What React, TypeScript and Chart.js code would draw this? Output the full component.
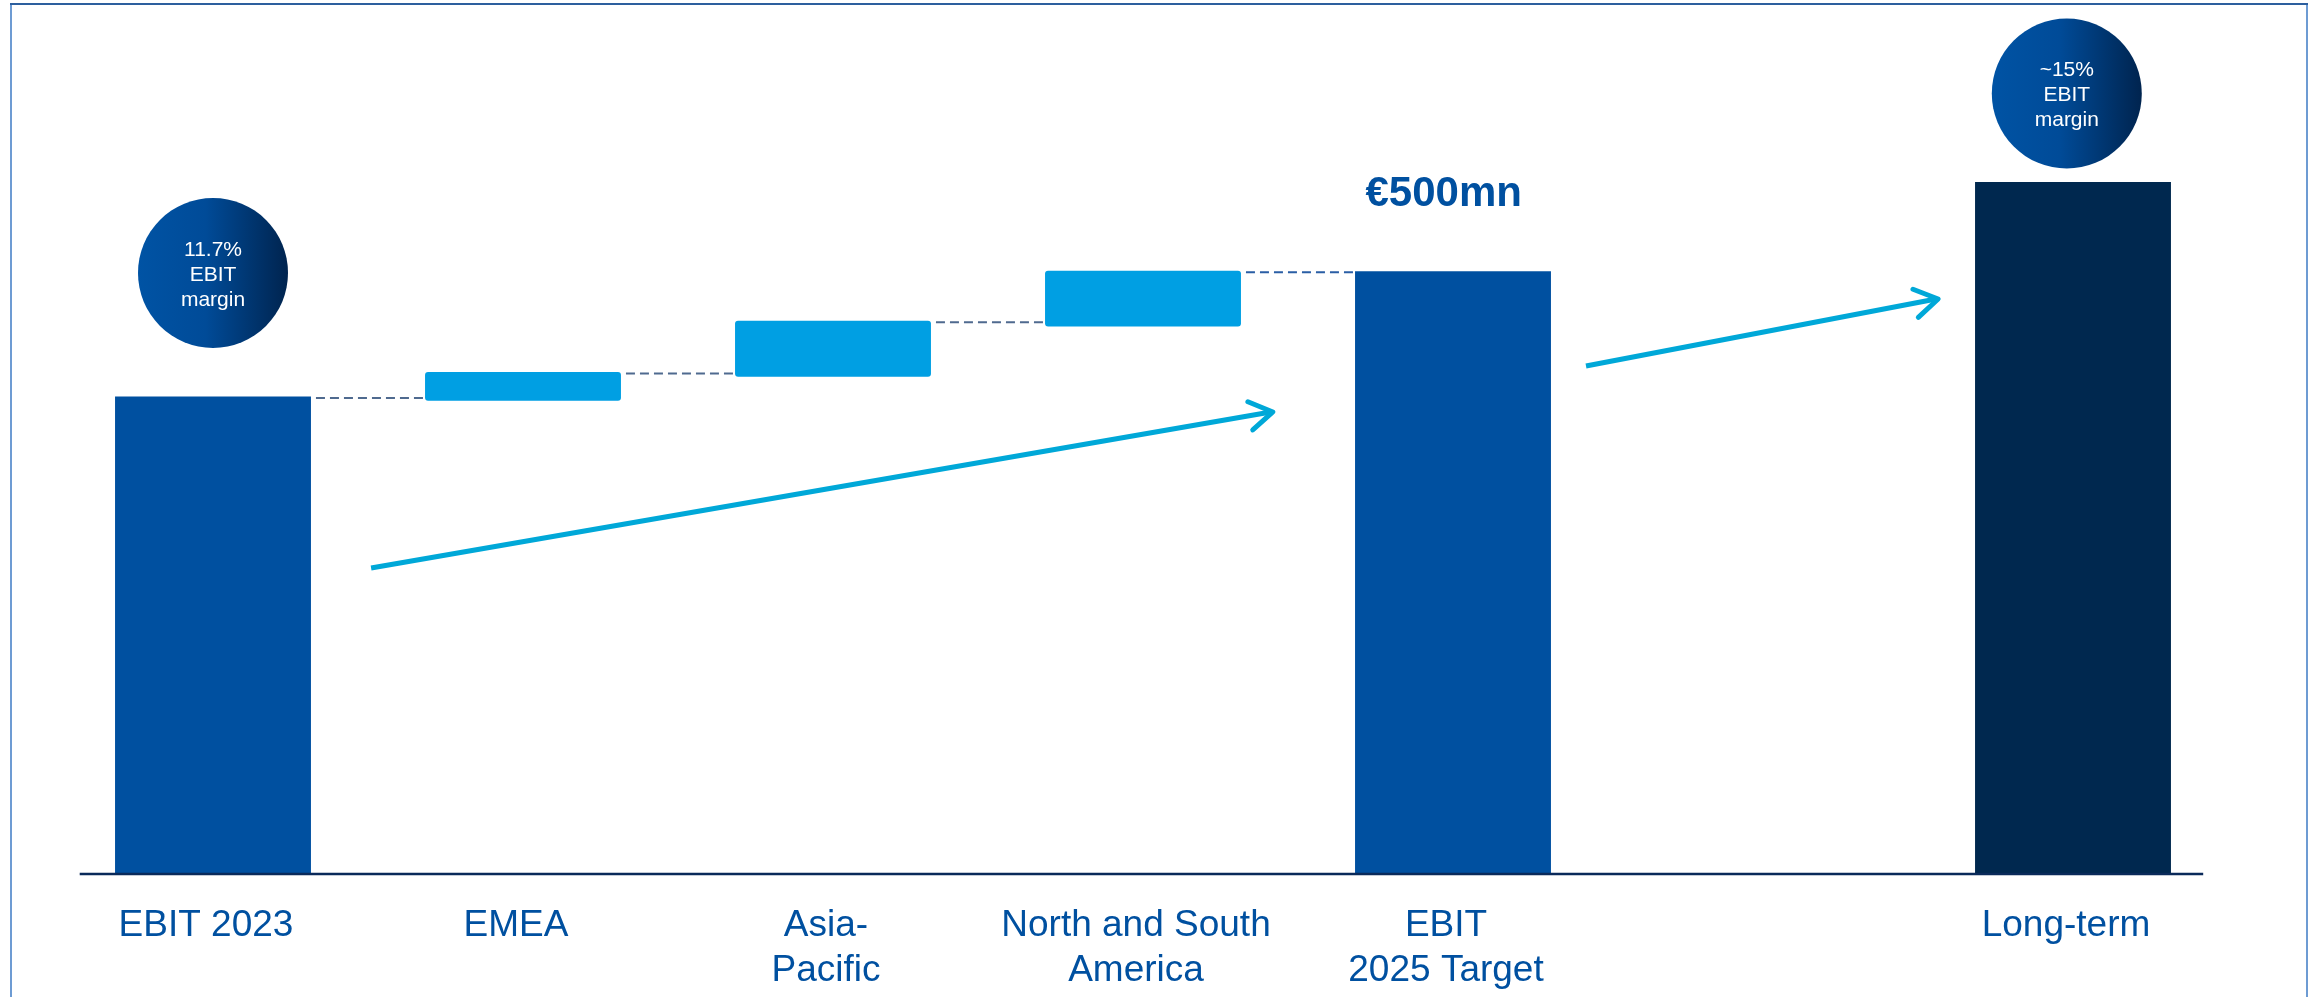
import React, { useEffect, useRef } from 'react';
import { Chart, registerables } from 'chart.js';

Chart.register(...registerables);

// ---- data ----
const categories: (string | string[])[] = [
  'EBIT 2023',
  'EMEA',
  ['Asia-', 'Pacific'],
  ['North and South', 'America'],
  ['EBIT', '2025 Target'],
  '',
  'Long-term',
];
const barStart: (number | null)[] = [0, 392.5, 412.5, 454, 0, null, 0];
const barEnd: (number | null)[] = [396, 416.4, 458.9, 500.4, 500, null, 574];
const barColors = ['#0050a0', '#009fe3', '#009fe3', '#009fe3', '#0050a0', 'rgba(0,0,0,0)', '#00284f'];
const connectorColors = ['#4f6a8f', '#4f6a8f', '#4f6a8f', '#2a5ea5'];

const bubbleTexts = [
  ['11.7%', 'EBIT', 'margin'],
  ['~15%', 'EBIT', 'margin'],
];
const bubbleX = [0, 5.98];
const bubbleY = [498.5, 647.3];

const arrowFromX = [0.51, 4.429];
const arrowFromY = [253.8, 421.3];
const arrowToX = [3.419, 5.565];
const arrowToY = [383.2, 476.9];

const targetLabel = '€500mn';
const targetLabelX = 3.97;
const targetLabelY = 554;

const axisFrom = -0.43;
const axisTo = 6.42;

const FONT = "'Liberation Sans', Arial, sans-serif";

const decorPlugin = {
  id: 'decor',
  beforeDraw(chart: any) {
    const ctx = chart.ctx;
    ctx.save();
    ctx.fillStyle = '#ffffff';
    ctx.fillRect(0, 0, chart.width, chart.height);
    // frame
    ctx.lineWidth = 2;
    ctx.strokeStyle = '#6d9bd3';
    ctx.beginPath();
    ctx.moveTo(11, chart.height + 2);
    ctx.lineTo(11, 4);
    ctx.moveTo(2307, 4);
    ctx.lineTo(2307, chart.height + 2);
    ctx.stroke();
    ctx.strokeStyle = '#2d5f9e';
    ctx.beginPath();
    ctx.moveTo(10, 4);
    ctx.lineTo(2308, 4);
    ctx.stroke();
    ctx.restore();
  },
  beforeDatasetsDraw(chart: any) {
    const ctx = chart.ctx;
    const meta = chart.getDatasetMeta(0);
    ctx.save();
    ctx.lineWidth = 2;
    ctx.setLineDash([9, 5]);
    for (let i = 0; i < 4; i++) {
      const a = meta.data[i] as any;
      const b = meta.data[i + 1] as any;
      const top = Math.min(a.y, a.base);
      const y = top + 1.5;
      ctx.strokeStyle = connectorColors[i];
      ctx.beginPath();
      ctx.moveTo(a.x + a.width / 2 + 5, y);
      ctx.lineTo(b.x - b.width / 2 - 1, y);
      ctx.stroke();
    }
    ctx.restore();
  },
  afterDatasetsDraw(chart: any) {
    const ctx = chart.ctx;
    const xs = chart.scales.x;
    const ys = chart.scales.y;
    ctx.save();
    // axis line
    const ay = ys.getPixelForValue(0);
    ctx.strokeStyle = '#0a2a5a';
    ctx.lineWidth = 2.5;
    ctx.beginPath();
    ctx.moveTo(xs.getPixelForValue(axisFrom), ay);
    ctx.lineTo(xs.getPixelForValue(axisTo), ay);
    ctx.stroke();

    // arrows
    ctx.strokeStyle = '#00a8d8';
    ctx.lineWidth = 5;
    ctx.lineJoin = 'round';
    for (let i = 0; i < arrowFromX.length; i++) {
      const x1 = xs.getPixelForValue(arrowFromX[i]);
      const y1 = ys.getPixelForValue(arrowFromY[i]);
      const x2 = xs.getPixelForValue(arrowToX[i]);
      const y2 = ys.getPixelForValue(arrowToY[i]);
      ctx.lineCap = 'butt';
      ctx.beginPath();
      ctx.moveTo(x1, y1);
      ctx.lineTo(x2 - 2, y2);
      ctx.stroke();
      ctx.lineCap = 'round';
      const ang = Math.atan2(y2 - y1, x2 - x1);
      const len = 27;
      const spread = (32 * Math.PI) / 180;
      ctx.beginPath();
      ctx.moveTo(x2 - len * Math.cos(ang - spread), y2 - len * Math.sin(ang - spread));
      ctx.lineTo(x2, y2);
      ctx.lineTo(x2 - len * Math.cos(ang + spread), y2 - len * Math.sin(ang + spread));
      ctx.stroke();
    }

    // bubbles
    const r = 75;
    for (let i = 0; i < bubbleX.length; i++) {
      const cx = xs.getPixelForValue(bubbleX[i]);
      const cy = ys.getPixelForValue(bubbleY[i]);
      const g = ctx.createLinearGradient(cx - r, 0, cx + r, 0);
      g.addColorStop(0, '#0053a4');
      g.addColorStop(0.45, '#004b98');
      g.addColorStop(1, '#00244f');
      ctx.fillStyle = g;
      ctx.beginPath();
      ctx.arc(cx, cy, r, 0, Math.PI * 2);
      ctx.fill();
      ctx.fillStyle = '#ffffff';
      ctx.font = `21px ${FONT}`;
      ctx.textAlign = 'center';
      ctx.textBaseline = 'middle';
      const lines = bubbleTexts[i];
      lines.forEach((t, k) => {
        ctx.fillText(t, cx, cy + (k - 1) * 25 + 2);
      });
    }

    // target label
    ctx.fillStyle = '#0050a0';
    ctx.font = `bold 42px ${FONT}`;
    ctx.textAlign = 'center';
    ctx.textBaseline = 'alphabetic';
    ctx.fillText(targetLabel, xs.getPixelForValue(targetLabelX), ys.getPixelForValue(targetLabelY));
    ctx.restore();
  },
};

export default function App() {
  const ref = useRef<HTMLCanvasElement | null>(null);
  useEffect(() => {
    if (!ref.current) return;
    const data = barStart.map((s, i) => (s === null || barEnd[i] === null ? null : [s, barEnd[i]]));
    const chart = new Chart(ref.current, {
      type: 'bar',
      data: {
        labels: categories as any,
        datasets: [
          {
            data: data as any,
            backgroundColor: barColors,
            borderWidth: 0,
            borderSkipped: false,
            borderRadius: (c: any) => (c.dataIndex >= 1 && c.dataIndex <= 3 ? 3 : 0),
            barPercentage: 0.632,
            categoryPercentage: 1,
          },
        ],
      },
      options: {
        animation: false,
        responsive: false,
        devicePixelRatio: 1,
        layout: { padding: { left: 58, right: 87, top: 30, bottom: 0 } },
        plugins: { legend: { display: false }, tooltip: { enabled: false }, title: { display: false } },
        scales: {
          x: {
            grid: { display: false, drawTicks: false },
            border: { display: false },
            afterFit: (scale: any) => {
              scale.height = 123;
            },
            ticks: {
              autoSkip: false,
              maxRotation: 0,
              minRotation: 0,
              padding: 29,
              labelOffset: -7,
              color: '#0050a0',
              font: { family: FONT, size: 37, lineHeight: 45 / 37 },
            },
          },
          y: {
            display: false,
            min: 0,
            max: 700,
          },
        },
      },
      plugins: [decorPlugin],
    });
    return () => chart.destroy();
  }, []);
  return (
    <div style={{ position: 'fixed', left: 0, top: 0, width: 2315, height: 997, background: '#fff' }}>
      <canvas ref={ref} width={2315} height={997} style={{ display: 'block', width: 2315, height: 997 }} />
    </div>
  );
}
